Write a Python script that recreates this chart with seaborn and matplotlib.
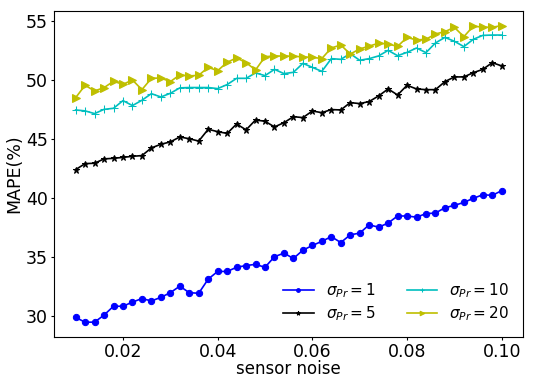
import numpy as np
import pandas as pd
import matplotlib
matplotlib.use('Agg')
import matplotlib.pyplot as plt
import seaborn as sns

# sensor noise levels (0.010 ... 0.100, step 0.002)
noise = np.linspace(0.01, 0.10, 46)

mape_1 = [29.9, 29.5, 29.5, 30.1, 30.85, 30.85, 31.2, 31.5, 31.3, 31.6,
          32.0, 32.55, 32.0, 31.95, 33.15, 33.8, 33.8, 34.15, 34.3, 34.4,
          34.15, 35.05, 35.35, 34.9, 35.6, 36.0, 36.35, 36.75, 36.25, 36.9,
          37.05, 37.75, 37.55, 37.9, 38.5, 38.5, 38.4, 38.7, 38.75, 39.2,
          39.4, 39.65, 40.0, 40.3, 40.25, 40.65]
mape_5 = [42.43, 42.94, 42.97, 43.34, 43.39, 43.47, 43.56, 43.62, 44.27, 44.58,
          44.78, 45.2, 45.05, 44.85, 45.85, 45.65, 45.5, 46.3, 45.8, 46.64,
          46.53, 46.05, 46.41, 46.92, 46.84, 47.4, 47.26, 47.52, 47.49, 48.11,
          48.03, 48.2, 48.68, 49.27, 48.76, 49.58, 49.27, 49.21, 49.21, 49.89,
          50.29, 50.29, 50.65, 50.93, 51.5, 51.22]
mape_10 = [47.49, 47.41, 47.18, 47.54, 47.63, 48.28, 47.86, 48.31, 48.87, 48.59,
           48.9, 49.36, 49.39, 49.39, 49.39, 49.3, 49.64, 50.17, 50.17, 50.63,
           50.4, 50.93, 50.57, 50.68, 51.44, 51.1, 50.76, 51.84, 51.78, 52.26,
           51.7, 51.84, 52.07, 52.54, 52.09, 52.37, 52.74, 52.35, 53.17, 53.64,
           53.31, 52.86, 53.48, 53.81, 53.84, 53.84]
mape_20 = [48.53, 49.58, 49.1, 49.38, 49.92, 49.66, 50.03, 49.21, 50.17, 50.2,
           49.89, 50.46, 50.37, 50.43, 51.1, 50.82, 51.53, 51.9, 51.5, 50.88,
           52.0, 52.07, 52.05, 52.05, 51.98, 51.95, 51.85, 52.74, 53.0, 52.23,
           52.66, 52.9, 53.15, 53.08, 52.88, 53.64, 53.42, 53.48, 53.93, 54.13,
           54.49, 53.7, 54.6, 54.5, 54.5, 54.64]

labels = [r'$\sigma_{Pr}=1$', r'$\sigma_{Pr}=5$', r'$\sigma_{Pr}=10$', r'$\sigma_{Pr}=20$']
series = [mape_1, mape_5, mape_10, mape_20]
colors = ['b', 'k', 'c', 'y']
markers = ['o', '*', '+', '>']
msizes = [4.5, 5, 5.5, 5.5]

fig = plt.figure(figsize=(5.4, 3.78), dpi=100)
ax = fig.add_axes([0.1006, 0.1085, 0.868, 0.863])

for vals, lab, c, m, ms in zip(series, labels, colors, markers, msizes):
    sns.lineplot(x=noise, y=vals, ax=ax, color=c, marker=m, markersize=ms,
                 markeredgecolor=c, linewidth=1.2, label=lab)

ax.set_xlabel('sensor noise', fontsize=12, labelpad=-1)
ax.set_ylabel('MAPE(%)', fontsize=12.5, labelpad=2)
ax.tick_params(labelsize=12.5, length=2.5, pad=2)
ax.set_xticks([0.02, 0.04, 0.06, 0.08, 0.10])
ax.set_xticklabels(['0.02', '0.04', '0.06', '0.08', '0.10'])
ax.legend(loc='lower right', ncol=2, frameon=False, fontsize=11,
          columnspacing=2.0, handlelength=2.0, labelspacing=0.3,
          markerscale=0.6)

fig.savefig('out.png', dpi=100)
